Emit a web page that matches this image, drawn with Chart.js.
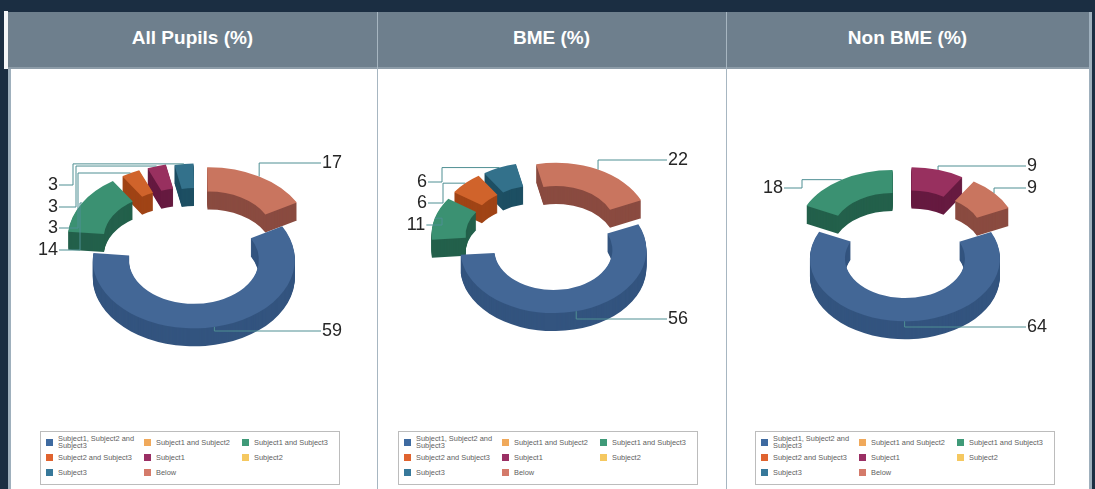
<!DOCTYPE html>
<html>
<head>
<meta charset="utf-8">
<script src="https://cdn.jsdelivr.net/npm/chart.js@4"></script>
<style>
  html, body { margin: 0; padding: 0; background: #1b2e42; overflow: hidden; }
  body { width: 1095px; height: 489px; position: relative; font-family: "Liberation Sans", Arial, sans-serif; }
  #sheet { position: absolute; left: 0; top: 0; width: 1095px; height: 489px; filter: blur(0.55px); }
  .block { position: absolute; }
  .head { position: absolute; top: 12px; height: 55px; line-height: 52px; color: #fff;
          font-size: 19px; font-weight: bold; text-align: center; }
  canvas { position: absolute; top: 68px; }
  .legend { position: absolute; top: 431px; width: 298px; height: 52px; border: 1.5px solid #bcbcbc; background: #fff; }
  .item { position: absolute; width: 92px; color: #5e5e5e; font-size: 7.4px; line-height: 7px; }
  .item i { position: absolute; left: -12px; top: 50%; margin-top: -3.5px; width: 7px; height: 7px; }
</style>
</head>
<body>
<div id="sheet"></div>
<script>
// values, same order as the legend
const categories = ['Subject1, Subject2 and Subject3', 'Subject1 and Subject2', 'Subject1 and Subject3',
  'Subject2 and Subject3', 'Subject1', 'Subject2', 'Subject3', 'Below']
const titles = ['All Pupils (%)', 'BME (%)', 'Non BME (%)']
const allPupils = [59, 0, 14, 3, 3, 0, 3, 17]
const bme = [56, 0, 11, 6, 0, 0, 6, 22]
const nonBme = [64, 0, 18, 0, 9, 0, 0, 9]

const topColors = ['#436796', '#f0a95b', '#3b9172', '#d0632b', '#98305f', '#f5c860', '#33718b', '#c9755f']
const sideColors = ['#33547f', '#b87a35', '#23604b', '#a04416', '#661a40', '#b8913a', '#1d4f63', '#8a4b40']
const legendColors = ['#3e6aa0', '#f0a95b', '#3f9a78', '#e0632f', '#9a2f64', '#f5c860', '#37789a', '#d47a6a']

// ring geometry per panel, page coordinates
const centers = [[190, 247], [549, 238], [905, 244]]
const radii = [101, 93, 95]
const holes = [65, 59, 60]
const rotations = [61, 66, 65]
const explode = [19, 18, 22]
const tilt = [0.68, 0.68, 0.66]
const depth = 18

// the original has some perspective, a flat squash does not reach it, so small per slice shifts
const nudges = [
  { 2: [-5, -2], 3: [-3, -2], 4: [2, -3], 6: [7, -2], 7: [9, 0] },
  { 2: [-7, 0], 3: [-6, -1], 6: [-6, -1], 7: [-1, -1] },
  { 2: [-1, 1], 7: [1, 0] }
]

// label x, label y, elbow x (null means run straight across, then drop to the slice)
const labelSpots = [
  { 0: [332, 331, null], 2: [48, 250, 80], 3: [53, 228, 78], 4: [53, 207, 76], 6: [53, 185, 73], 7: [332, 163, null] },
  { 0: [678, 319, null], 2: [416, 225, 442], 3: [422, 203, 443], 6: [422, 182, 442], 7: [678, 160, null] },
  { 0: [1037, 327, null], 2: [773, 188, 802], 4: [1032, 166, null], 7: [1032, 188, null] }
]

const panelLefts = [11, 378, 727]
const panelWidths = [366, 348, 361]
const headLefts = [8, 377, 727]
const headWidths = [369, 349, 361]
const legendLefts = [40, 398, 755]

const sheet = document.getElementById('sheet')

function addBlock(left, top, width, height, color) {
  const d = document.createElement('div')
  d.className = 'block'
  d.style.cssText = `left:${left}px;top:${top}px;width:${width}px;height:${height}px;background:${color}`
  sheet.appendChild(d)
}

addBlock(4, 11, 4, 58, '#f4f6f8')
addBlock(8, 12, 3, 477, '#9fb0bd')
addBlock(11, 67, 1078, 422, '#ffffff')
addBlock(1089, 12, 3, 477, '#9fb0bd')
addBlock(8, 12, 1081, 56, '#6e7f8d')
addBlock(8, 67, 1081, 1.5, '#8d9ca8')
addBlock(377, 12, 1, 477, '#a7b6c1')
addBlock(726, 12, 1, 477, '#a7b6c1')

const ring3d = {
  id: 'ring3d',
  beforeDatasetsDraw(chart, args, opts) {
    const ctx = chart.ctx
    const meta = chart.getDatasetMeta(0)
    const left = chart.canvas.offsetLeft
    const top = chart.canvas.offsetTop
    const cx = opts.center[0] - left
    const cy = opts.center[1] - top

    const slices = meta.data.map((arc, i) => {
      const p = arc.getProps(['startAngle', 'endAngle', 'innerRadius', 'outerRadius'], true)
      const mid = (p.startAngle + p.endAngle) / 2
      const shift = opts.nudges[i] || [0, 0]
      return { i, p, mid, shift, off: arc.options.offset, value: chart.data.datasets[0].data[i] }
    }).filter(s => s.value > 0)

    const trace = (s, drop) => {
      ctx.save()
      ctx.translate(cx + s.shift[0], cy + s.shift[1] + drop)
      ctx.scale(1, opts.tilt)
      const ox = Math.cos(s.mid) * s.off
      const oy = Math.sin(s.mid) * s.off
      ctx.beginPath()
      ctx.arc(ox, oy, s.p.outerRadius, s.p.startAngle, s.p.endAngle)
      ctx.arc(ox, oy, s.p.innerRadius, s.p.endAngle, s.p.startAngle, true)
      ctx.closePath()
      ctx.restore()
    }

    // far slices first so the near ones sit in front
    slices.sort((a, b) => Math.sin(a.mid) - Math.sin(b.mid))
    slices.forEach(s => {
      ctx.fillStyle = sideColors[s.i]
      for (let d = opts.depth; d > 0; d--) {
        trace(s, d)
        ctx.fill()
      }
      ctx.fillStyle = topColors[s.i]
      trace(s, 0)
      ctx.fill()
    })

    // leader lines and value labels
    ctx.font = '18px "Liberation Sans", Arial, sans-serif'
    ctx.textAlign = 'center'
    ctx.textBaseline = 'middle'
    slices.forEach(s => {
      const spot = opts.spots[s.i]
      const lx = spot[0] - left
      const ly = spot[1] - top
      const reach = s.p.outerRadius + s.off
      const ax = cx + s.shift[0] + Math.cos(s.mid) * reach
      const ay = cy + s.shift[1] + Math.sin(s.mid) * reach * opts.tilt
      const text = String(s.value)
      const half = ctx.measureText(text).width / 2 + 1
      ctx.strokeStyle = '#4f8f93'
      ctx.lineWidth = 1
      ctx.beginPath()
      if (spot[2] === null) {
        ctx.moveTo(lx - half, ly)
        ctx.lineTo(ax, ly)
        ctx.lineTo(ax, ay)
      } else {
        const ex = spot[2] - left
        ctx.moveTo(lx + half, ly)
        ctx.lineTo(ex, ly)
        ctx.lineTo(ex, ay)
        ctx.lineTo(ax, ay)
      }
      ctx.stroke()
      ctx.fillStyle = '#262626'
      ctx.fillText(text, lx, ly)
    })
    return false
  }
}

const panelData = [allPupils, bme, nonBme]

panelData.forEach((values, n) => {
  const head = document.createElement('div')
  head.className = 'head'
  head.style.left = headLefts[n] + 'px'
  head.style.width = headWidths[n] + 'px'
  head.textContent = titles[n]

  const cv = document.createElement('canvas')
  cv.width = panelWidths[n]
  cv.height = 362
  cv.style.left = panelLefts[n] + 'px'
  sheet.appendChild(cv)
  sheet.appendChild(head)

  new Chart(cv, {
    type: 'doughnut',
    data: {
      labels: categories,
      datasets: [{ data: values, backgroundColor: topColors, offset: explode[n], borderWidth: 0 }]
    },
    options: {
      responsive: false,
      animation: false,
      events: [],
      rotation: rotations[n],
      radius: radii[n],
      // doughnut cutout is relative to the outer radius
      cutout: (holes[n] / radii[n] * 100) + '%',
      plugins: {
        legend: { display: false },
        tooltip: { enabled: false },
        ring3d: { center: centers[n], tilt: tilt[n], depth: depth, spots: labelSpots[n], nudges: nudges[n] }
      }
    },
    plugins: [ring3d]
  })

  const box = document.createElement('div')
  box.className = 'legend'
  box.style.left = legendLefts[n] + 'px'
  categories.forEach((name, i) => {
    const item = document.createElement('div')
    item.className = 'item'
    item.style.left = (17 + (i % 3) * 98) + 'px'
    item.style.top = (Math.floor(i / 3) * 15 + (i === 0 ? 3 : 7)) + 'px'
    const sw = document.createElement('i')
    sw.style.background = legendColors[i]
    item.appendChild(sw)
    item.appendChild(document.createTextNode(name))
    box.appendChild(item)
  })
  sheet.appendChild(box)
})
</script>
</body>
</html>
